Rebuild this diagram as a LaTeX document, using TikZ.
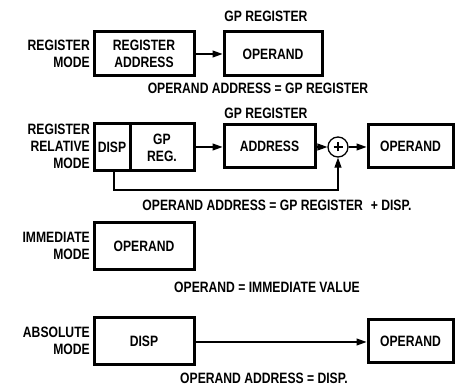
\documentclass[tikz,border=0pt]{standalone}
\usepackage{fontspec}
\setmainfont{Liberation Sans}[FakeStretch=0.81]
\usetikzlibrary{arrows.meta}
\tikzset{
  every node/.style={font=\bfseries\fontsize{15}{17}\selectfont, inner sep=0pt},
  box/.style={draw, line width=3pt, align=center},
  lbl/.style={align=right, anchor=east},
  eq/.style={align=center},
  arr/.style={line width=1.1pt, -{Triangle[length=10pt,width=7pt]}}
}
\newcommand{\boxat}[6]{\node[box, minimum width=#4-#2, minimum height=#5-#3] (#1) at ({(#2+#4)/2},{(#3+#5)/2}) {#6};}
\begin{document}
\begin{tikzpicture}[x=1pt,y=-1pt]
\useasboundingbox (0,0) rectangle (456,385);
% Row 1
\node[lbl] (l1) at (90,54) {REGISTER\\MODE};
\boxat{ra}{94}{32}{194}{76}{REGISTER\\ADDRESS}
\boxat{op1}{224}{32}{322}{76}{OPERAND}
\node[eq] (gp1) at (266,16) {GP REGISTER};
\node[eq] (eq1) at (258,88) {OPERAND ADDRESS = GP REGISTER};
\draw[arr] (ra) -- (op1);
% Row 2
\node[lbl] (l2) at (90,146) {REGISTER\\RELATIVE\\MODE};
\boxat{disp}{94}{124}{130}{171}{DISP}
\boxat{gpreg}{130}{124}{194}{171}{GP\\REG.}
\node[eq] (gp2) at (266,113) {GP REGISTER};
\boxat{addr}{224}{125}{315}{168}{ADDRESS}
\node[draw, circle, line width=1.3pt, minimum size=20pt] (plus) at (338,147) {};
\draw[line width=1.3pt] ([xshift=-4.5pt]plus.center) -- ([xshift=4.5pt]plus.center)
  ([yshift=-4.5pt]plus.center) -- ([yshift=4.5pt]plus.center);
\boxat{op2}{368}{125}{453}{168}{OPERAND}
\draw[arr] (gpreg.east |- 0,147) -- (addr.west |- 0,147);
\draw[arr] (addr.east |- plus) -- (plus);
\draw[arr] (plus) -- (op2.west |- plus);
\coordinate (fb) at (114,190);
\draw[arr] (disp.south -| fb) -- (fb) -| (plus.south);
\node[eq] (eq2) at (277,205) {OPERAND ADDRESS = GP REGISTER\hspace{8pt}+ DISP.};
% Row 3
\node[lbl] (l3) at (90,246) {IMMEDIATE\\MODE};
\boxat{imm}{94}{223}{194}{270}{OPERAND}
\node[eq] (eq3) at (267,287) {OPERAND = IMMEDIATE VALUE};
% Row 4
\node[lbl] (l4) at (90,341) {ABSOLUTE\\MODE};
\boxat{abs}{94}{318}{194}{365}{DISP}
\boxat{op4}{368}{320}{453}{363}{OPERAND}
\draw[arr] (abs.east |- 0,342) -- (op4.west |- 0,342);
\node[eq] (eq4) at (264,378) {OPERAND ADDRESS = DISP.};
\end{tikzpicture}
\end{document}
